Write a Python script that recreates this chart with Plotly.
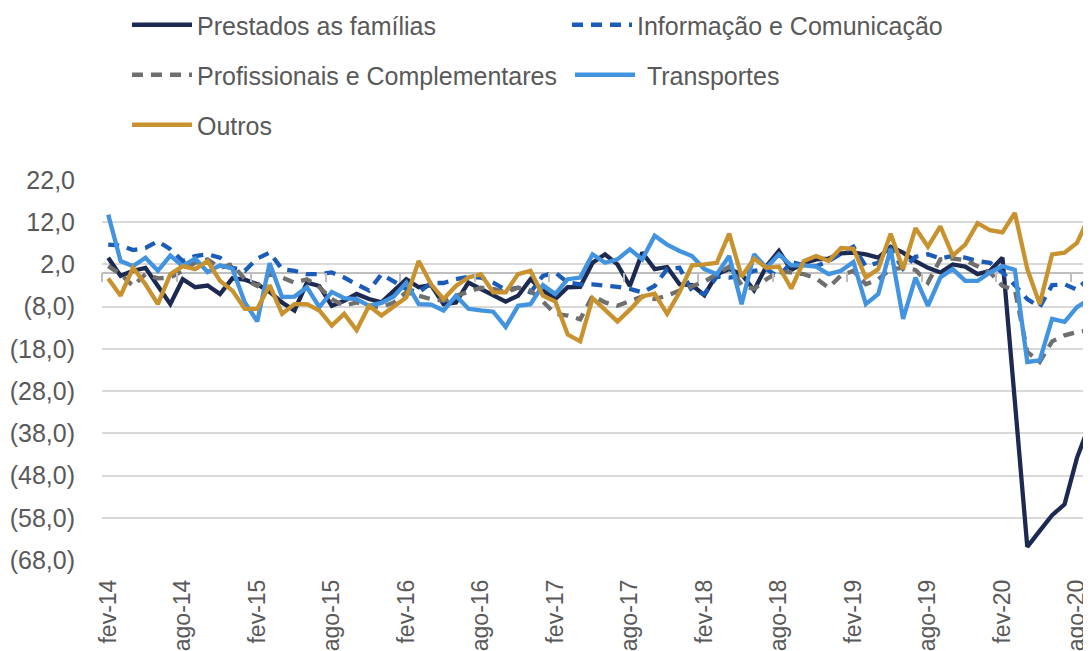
import plotly.graph_objects as go

months_pt = ["jan", "fev", "mar", "abr", "mai", "jun", "jul", "ago", "set", "out", "nov", "dez"]
categories = [f"{months_pt[(1 + i) % 12]}-{14 + (1 + i) // 12}" for i in range(80)]
tick_labels = categories[::6]

prestados = [3.6, -0.7, 0.5, 1.2, -3.1, -7.4, -1.5, -3.4, -3.0, -5.0, -1.3, -1.6, -2.7, -4.5, -7.0, -8.9,
             -2.3, -3.1, -7.8, -6.6, -5.0, -6.2, -7.0, -4.2, -1.5, -3.4, -2.9,
             -7.4, -7.0, -2.3, -3.8, -5.4, -6.8, -5.4, -1.5, -4.2, -6.2, -3.4, -3.3, 2.4, 4.4, 2.0,
             -3.1, 4.8, 0.9, 1.4, -2.7, -2.9, -5.3, -0.3, 0.9, -0.3, -4.1, 1.6, 5.2,
             0.7, 2.3, 3.2, 3.4, 4.6, 4.8, 4.4, 3.6, 6.2, 4.8, 2.8, 1.2, 0.1, 2.0, 1.5, -0.3, 0.5,
             3.6, -30.5, -64.9, -61.1, -57.4, -54.8, -43.8, -36.0]

informacao = [6.7, 6.5, 5.4, 5.9, 7.5, 5.6, 2.8, 4.0, 4.4, 3.6, 1.2, 0.5, 3.4, 4.8, 0.9, 0.5,
              -0.3, -0.3, 0.1, -1.1, -2.7, -4.2, -0.3, -2.1, -3.8, -4.6, -2.4,
              -2.4, -1.5, -0.9, -1.1, -2.3, -4.0, -3.5, -4.6, -0.7, 0.1, -2.3, -2.7, -2.7, -2.9, -3.3,
              -3.8, -4.6, -3.1, 0.9, 1.2, -4.2, -5.0, -0.9, -1.1, -0.7, 0.5, 0.9, -1.0,
              2.6, 1.8, 1.6, 2.8, 4.4, 6.2, 1.6, 2.4, 5.7, 1.0, 3.8, 4.4, 3.4, 4.0, 3.6, 2.8, 2.4,
              0.1, -2.9, -6.2, -8.1, -2.9, -2.7, -4.0, -1.1]

profissionais = [1.6, -0.3, -3.1, -0.3, -1.3, -1.1, 0.5, 2.4, 3.2, 1.2, 2.0, -1.5, -3.1, -0.3, -1.1, -2.3,
                 -1.5, -3.4, -6.2, -7.8, -7.0, -7.8, -8.1, -7.0, -4.6, -5.4, -6.2,
                 -6.6, -5.4, -4.5, -3.5, -3.8, -4.6, -3.5, -4.2, -6.8, -9.7, -10.1, -11.0, -5.4, -7.0, -7.8,
                 -6.6, -5.6, -6.2, -5.4, -4.2, -3.1, -2.1, -0.3, 1.5, -2.9, -3.8, -1.5, 0.3,
                 0.1, -0.3, -1.3, -3.5, -0.6, 0.5, -2.7, -1.5, 0.9, 1.2, 0.7, -2.3, 3.2, 3.4, 3.0, 1.6, 0.1,
                 -3.1, -4.0, -18.7, -21.1, -16.2, -14.8, -14.0, -13.6]

transportes = [13.8, 2.8, 1.6, 3.6, 0.5, 4.1, 1.6, 3.4, 0.2, 1.8, 1.0, -7.0, -11.5, 2.3, -5.7, -5.6,
               -3.4, -8.1, -4.5, -6.0, -6.2, -7.8, -7.1, -5.6, -2.3, -7.4, -7.5,
               -8.9, -5.4, -8.5, -8.9, -9.2, -12.8, -7.8, -7.4, -2.9, -5.0, -1.5, -1.1, 4.4, 2.4, 3.2,
               5.6, 3.2, 8.8, 6.7, 5.2, 4.0, 0.9, -0.3, 4.0, -7.4, 4.4, 1.2, 4.4,
               1.8, 1.8, 1.5, -0.3, 0.5, 2.6, -7.4, -5.0, 5.7, -10.9, -1.1, -7.8, -1.1, 0.9, -1.9, -1.9, 0.1,
               1.6, 0.7, -21.1, -20.7, -10.9, -11.6, -8.1, -6.2]

outros = [-1.3, -5.4, 1.2, -2.7, -7.4, -0.3, 1.6, 0.9, 2.8, -1.9, -4.2, -8.5, -8.5, -2.9, -9.7, -7.4,
          -7.4, -8.9, -12.5, -9.7, -13.6, -7.8, -10.1, -7.8, -5.8, 2.8, -2.7,
          -6.2, -3.1, -1.1, -0.3, -4.6, -4.6, -0.3, 0.5, -5.4, -6.8, -14.6, -16.2, -6.0, -8.9, -11.5,
          -8.7, -5.6, -4.9, -9.7, -4.6, 1.8, 2.0, 2.4, 9.3, -0.9, 3.4, 1.2, 1.5,
          -3.7, 2.8, 4.0, 2.8, 5.9, 5.7, -1.1, 0.9, 9.3, 0.9, 10.6, 6.2, 11.0, 4.1, 6.7, 11.8, 10.1,
          9.6, 14.2, 0.9, -7.4, 4.4, 4.8, 7.1, 13.4]

y_ticks = [22, 12, 2, -8, -18, -28, -38, -48, -58, -68]
y_tick_text = ["22,0", "12,0", "2,0", "(8,0)", "(18,0)", "(28,0)", "(38,0)", "(48,0)", "(58,0)", "(68,0)"]

series = [
    ("Prestados as famílias", prestados, "#1C2A52", "solid", "legend"),
    ("Informação e Comunicação", informacao, "#1B5CB8", "11px,8px", "legend2"),
    ("Profissionais e Complementares", profissionais, "#6F6F6F", "11px,8px", "legend3"),
    ("\u00a0Transportes", transportes, "#4293E0", "solid", "legend4"),
    ("Outros", outros, "#C8922F", "solid", "legend5"),
]

FONT = "Liberation Sans, Arial, sans-serif"
TXT = "#595959"
W, H = 1083, 643  # page body has an 8px margin

fig = go.Figure()
for name, vals, color, dash, leg in series:
    fig.add_trace(go.Scatter(
        x=categories, y=vals, name=name, mode="lines",
        line=dict(color=color, width=4.3, dash=dash),
        legend=leg,
    ))

# helper trace for the boundary tick marks on the zero axis line
fig.add_trace(go.Scatter(x=[0], y=[None], xaxis="x2", showlegend=False, hoverinfo="skip"))

boundary_ticks = [k - 0.5 for k in range(0, 80, 6)]


def leg(xpx, ypx):
    return dict(orientation="h", xref="container", yref="container", xanchor="left", yanchor="middle",
                x=xpx / W, y=1 - ypx / H, itemwidth=60,
                font=dict(family=FONT, size=25, color=TXT), bgcolor="rgba(0,0,0,0)",
                itemclick=False, itemdoubleclick=False)


fig.update_layout(
    width=W, height=H,
    paper_bgcolor="white", plot_bgcolor="white",
    margin=dict(l=94, r=0, t=172, b=88),
    legend=leg(119, 17),
    legend2=leg(559, 17),
    legend3=leg(119, 67),
    legend4=leg(562, 67),
    legend5=leg(119, 117),
    xaxis=dict(
        type="category", range=[-0.5, 79.13],
        tickmode="array", tickvals=tick_labels, ticktext=tick_labels,
        tickangle=-90, ticks="", showgrid=False, showline=False, zeroline=False,
        tickfont=dict(family=FONT, size=23, color=TXT),
        ticklabelstandoff=14,
    ),
    xaxis2=dict(
        overlaying="x", anchor="free", position=(563 - 273) / (563 - 180), side="bottom",
        range=[-0.5, 79.13], tickmode="array", tickvals=boundary_ticks,
        ticks="outside", ticklen=9, tickwidth=1.5, tickcolor="#BFBFBF",
        showticklabels=False, showgrid=False, showline=False, zeroline=False,
    ),
    yaxis=dict(
        range=[-68, 22], tickmode="array", tickvals=y_ticks, ticktext=y_tick_text,
        showgrid=True, gridcolor="#D9D9D9", gridwidth=1.5,
        zeroline=True, zerolinecolor="#BFBFBF", zerolinewidth=1.5,
        showline=False, ticks="",
        tickfont=dict(family=FONT, size=25, color=TXT),
        ticklabelstandoff=26,
    ),
)

fig.write_html("out.html")
